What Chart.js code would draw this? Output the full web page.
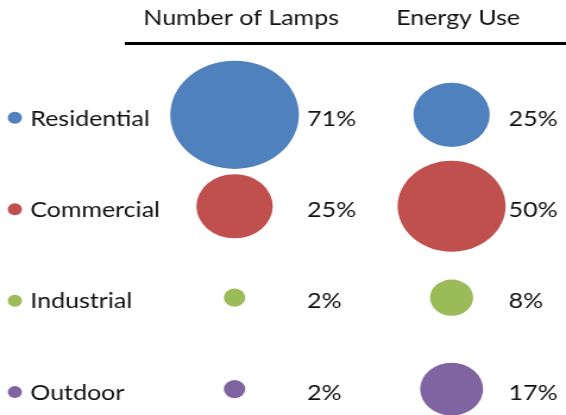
<!DOCTYPE html>
<html>
<head>
<meta charset="utf-8">
<script src="https://cdn.jsdelivr.net/npm/chart.js@4/dist/chart.umd.min.js"></script>
<style>
  html, body { margin: 0; padding: 0; background: #fff; overflow: hidden; }
  /* the original picture is stretched sideways, so the chart is too */
  #wrap { position: relative; width: 476px; height: 415px; transform: scaleX(1.189); transform-origin: 0 0; }
</style>
</head>
<body>
<div id="wrap"><canvas id="bubbles"></canvas></div>
<script>
var sectors = ["Residential", "Commercial", "Industrial", "Outdoor"];
var columns = ["Number of Lamps", "Energy Use"];
var lampShare = [71, 25, 2, 2];
var energyShare = [25, 50, 8, 17];
var sectorColors = ["#4F81BD", "#C0504D", "#9BBB59", "#8064A2"];

// bubble area follows the share
function toPoints(col, shares) {
    var pts = [];
    for (var i = 0; i < shares.length; i++) {
        pts.push({x: col, y: i, r: 6.42 * Math.sqrt(shares[i]), v: shares[i]});
    }
    return pts;
}

// sector names with a coloured dot, one per row
var sectorLegend = {
    id: 'sectorLegend',
    afterDraw: function (chart) {
        var ctx = chart.ctx;
        var y = chart.scales.y;
        ctx.save();
        ctx.font = '21px Lato';
        ctx.textAlign = 'left';
        ctx.textBaseline = 'middle';
        for (var i = 0; i < sectors.length; i++) {
            var py = y.getPixelForValue(i);
            ctx.fillStyle = sectorColors[i];
            ctx.beginPath();
            ctx.arc(12.5, py + 3, 6, 0, Math.PI * 2);
            ctx.fill();
            ctx.fillStyle = '#111';
            ctx.fillText(sectors[i], 25.5, py + 4);
        }
        ctx.restore();
    }
};

var shareLabels = {
    id: 'shareLabels',
    afterDatasetsDraw: function (chart, args, opts) {
        var ctx = chart.ctx;
        ctx.save();
        ctx.font = '21px Lato';
        ctx.fillStyle = '#111';
        ctx.textAlign = 'left';
        ctx.textBaseline = 'middle';
        chart.data.datasets.forEach(function (ds, di) {
            chart.getDatasetMeta(di).data.forEach(function (el, i) {
                ctx.fillText(ds.data[i].v + '%', el.x + opts.offsets[di], el.y + 4);
            });
        });
        ctx.restore();
    }
};

new Chart(document.getElementById("bubbles"), {
    type: 'bubble',
    data: {
        datasets: [
            {
                label: columns[0],
                data: toPoints(0, lampShare),
                backgroundColor: sectorColors,
                borderWidth: 0,
                clip: false
            },
            {
                label: columns[1],
                data: toPoints(1, energyShare),
                backgroundColor: sectorColors,
                borderWidth: 0,
                clip: false
            }
        ]
    },
    options: {
        responsive: true,
        maintainAspectRatio: false,
        devicePixelRatio: 1,
        animation: false,
        layout: {autoPadding: false, padding: {left: 106, top: 0, right: 0, bottom: 0}},
        plugins: {
            legend: {display: false},
            tooltip: {enabled: false},
            shareLabels: {offsets: [61, 48]}
        },
        scales: {
            x: {
                type: 'linear',
                position: 'top',
                min: -0.5,
                max: 1.527,
                grid: {display: false, drawTicks: false},
                border: {display: true, color: '#000', width: 3},
                ticks: {
                    font: {family: 'Lato', size: 21},
                    color: '#111',
                    padding: 12,
                    labelOffset: 5.5,
                    autoSkip: false,
                    maxRotation: 0,
                    callback: function (v) { return columns[v]; }
                },
                afterBuildTicks: function (s) {
                    s.ticks = columns.map(function (n, i) { return {value: i}; });
                },
                afterFit: function (s) { s.height = 43; }
            },
            y: {
                type: 'linear',
                display: false,
                reverse: true,
                min: -0.785,
                max: 3.283
            }
        }
    },
    plugins: [sectorLegend, shareLabels]
});
</script>
</body>
</html>
